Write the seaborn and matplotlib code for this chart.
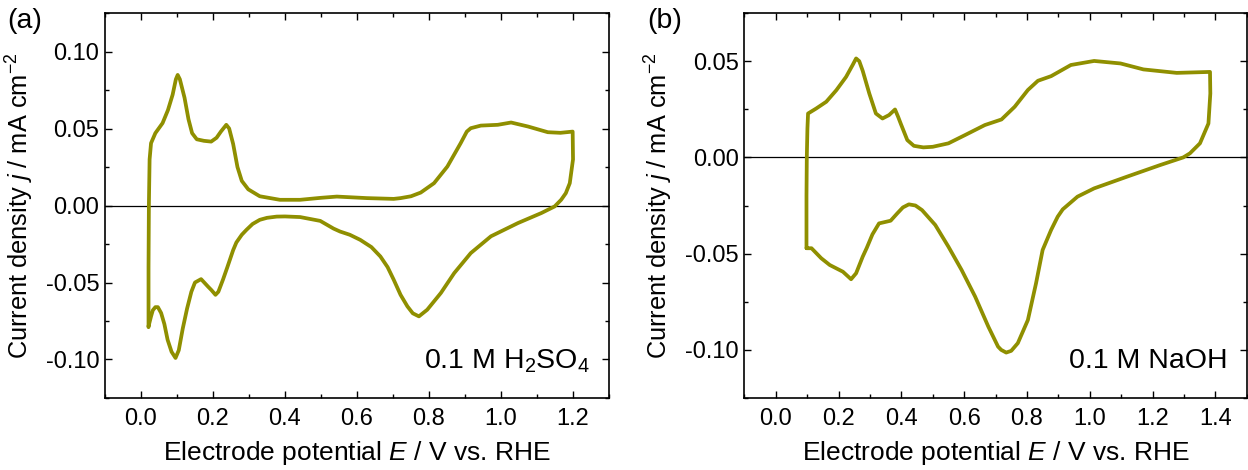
import matplotlib
matplotlib.use('Agg')
import matplotlib.pyplot as plt
from matplotlib.ticker import MultipleLocator, FormatStrFormatter
import seaborn as sns
import pandas as pd

# ─── DATA ──────────────────────────────────────────────────────
# (a) 0.1 M H2SO4, closed CV loop: anodic sweep then cathodic sweep
E_acid = [0.021, 0.021, 0.022, 0.024, 0.028, 0.040, 0.060, 0.075, 0.088, 0.097,
          0.102, 0.108, 0.121, 0.132, 0.142, 0.155, 0.175, 0.195, 0.210, 0.222,
          0.237, 0.245, 0.256, 0.268, 0.280, 0.298, 0.330, 0.386, 0.442, 0.500,
          0.544, 0.628, 0.702, 0.721, 0.750, 0.777, 0.814, 0.851, 0.888, 0.905,
          0.916, 0.944, 0.991, 1.028, 1.075, 1.130, 1.165, 1.199, 1.200, 1.191,
          1.180, 1.167, 1.149, 1.112, 1.047, 0.972, 0.916, 0.870, 0.833, 0.795,
          0.772, 0.755, 0.740, 0.721, 0.702, 0.685, 0.665, 0.640, 0.609,
          0.580, 0.553, 0.535, 0.498, 0.442, 0.400, 0.377, 0.350, 0.330, 0.310,
          0.293, 0.280, 0.265, 0.256, 0.240, 0.228, 0.215, 0.207, 0.196, 0.186,
          0.167, 0.150, 0.140, 0.128, 0.116, 0.105, 0.096, 0.085, 0.074, 0.065,
          0.056, 0.047, 0.040, 0.033, 0.028, 0.021]
j_acid = [-0.079, -0.040, 0.000, 0.030, 0.0405, 0.047, 0.0535, 0.062, 0.072, 0.082,
          0.0848, 0.082, 0.070, 0.056, 0.047, 0.043, 0.042, 0.0415, 0.044, 0.048,
          0.0524, 0.050, 0.040, 0.025, 0.016, 0.0105, 0.006, 0.0037, 0.0037, 0.0050,
          0.0058, 0.0048, 0.0043, 0.0048, 0.0060, 0.0084, 0.0145, 0.0253, 0.0405, 0.048,
          0.0502, 0.0519, 0.0524, 0.0539, 0.0513, 0.0476, 0.0472, 0.048, 0.030, 0.0145,
          0.008, 0.0037, -0.0006, -0.0049, -0.0114, -0.020, -0.0309, -0.0439, -0.0568, -0.0677,
          -0.072, -0.070, -0.0655, -0.058, -0.0482, -0.040, -0.0331, -0.027, -0.0223,
          -0.019, -0.0169, -0.015, -0.010, -0.0075, -0.0071, -0.0072, -0.008, -0.0093, -0.012,
          -0.0158, -0.019, -0.024, -0.029, -0.040, -0.048, -0.056, -0.058, -0.055, -0.0526,
          -0.0478, -0.050, -0.056, -0.067, -0.080, -0.094, -0.099, -0.095, -0.0872, -0.077,
          -0.0698, -0.066, -0.066, -0.068, -0.072, -0.0785]

# (b) 0.1 M NaOH
E_base = [0.098, 0.098, 0.099, 0.101, 0.103, 0.129, 0.161, 0.193, 0.224, 0.245,
          0.256, 0.266, 0.277, 0.298, 0.319, 0.340, 0.361, 0.380, 0.390, 0.398,
          0.419, 0.440, 0.470, 0.500, 0.550, 0.603, 0.666, 0.719, 0.761, 0.803,
          0.835, 0.877, 0.940, 1.014, 1.098, 1.171, 1.277, 1.383, 1.384, 1.378,
          1.351, 1.319, 1.298, 1.224, 1.119, 1.014, 0.961, 0.914, 0.898, 0.877,
          0.850, 0.829, 0.803, 0.771, 0.750, 0.734, 0.718, 0.708, 0.677, 0.635,
          0.592, 0.550, 0.508, 0.466, 0.445, 0.424, 0.405, 0.387, 0.366, 0.329,
          0.308, 0.290, 0.277, 0.256, 0.240, 0.214, 0.172, 0.145, 0.114, 0.098]
j_base = [-0.047, -0.020, 0.000, 0.015, 0.0228, 0.0254, 0.0289, 0.0349, 0.0418, 0.048,
          0.0514, 0.050, 0.045, 0.0332, 0.0228, 0.0202, 0.022, 0.0249, 0.021, 0.0176,
          0.009, 0.006, 0.0052, 0.0055, 0.0073, 0.0116, 0.0168, 0.0197, 0.0263, 0.035,
          0.0398, 0.0422, 0.048, 0.0501, 0.0488, 0.0457, 0.0439, 0.0444, 0.0332, 0.0176,
          0.0073, 0.0021, 0.000, -0.004, -0.010, -0.0161, -0.0204, -0.027, -0.0308, -0.0377,
          -0.0481, -0.0654, -0.0845, -0.0965, -0.1005, -0.1014, -0.100, -0.0983, -0.0879, -0.0723,
          -0.0585, -0.0464, -0.0351, -0.0274, -0.025, -0.0244, -0.026, -0.0291, -0.0329, -0.0343,
          -0.040, -0.047, -0.0516, -0.0602, -0.0633, -0.0594, -0.0559, -0.0524, -0.0472, -0.0472]

panel_tags = ['(a)', '(b)']
electrolytes = ['0.1 M H$_2$SO$_4$', '0.1 M NaOH']
xlims = [(-0.1, 1.3), (-0.1, 1.5)]
ylims = [(-0.125, 0.125), (-0.125, 0.075)]

# ─── STYLE ─────────────────────────────────────────────────────
sns.set_theme(style='ticks')
plt.rcParams['font.family'] = ['Liberation Sans', 'DejaVu Sans']
plt.rcParams['mathtext.fontset'] = 'custom'
plt.rcParams['mathtext.rm'] = 'Liberation Sans'
plt.rcParams['mathtext.it'] = 'Liberation Sans:italic'
plt.rcParams['axes.unicode_minus'] = False
for key in ['text.color', 'axes.labelcolor', 'xtick.color', 'ytick.color',
            'axes.edgecolor']:
    plt.rcParams[key] = 'black'

line_color = '#8F8F00'

fig = plt.figure(figsize=(12.48, 4.70), dpi=100)
ax_a = fig.add_axes([0.0841, 0.1532, 0.4039, 0.8191])
ax_b = fig.add_axes([0.5964, 0.1532, 0.4026, 0.8191])

datasets = [pd.DataFrame({'E': E_acid, 'j': j_acid}),
            pd.DataFrame({'E': E_base, 'j': j_base})]

for i, (ax, df) in enumerate(zip([ax_a, ax_b], datasets)):
    ax.axhline(0, color='black', lw=0.9, zorder=1)
    sns.lineplot(data=df, x='E', y='j', sort=False, estimator=None,
                 color=line_color, lw=2.7, ax=ax, zorder=2)
    ax.set_xlim(*xlims[i])
    ax.set_ylim(*ylims[i])
    ax.xaxis.set_major_locator(MultipleLocator(0.2))
    ax.xaxis.set_minor_locator(MultipleLocator(0.1))
    ax.yaxis.set_major_locator(MultipleLocator(0.05))
    ax.yaxis.set_minor_locator(MultipleLocator(0.025))
    ax.xaxis.set_major_formatter(FormatStrFormatter('%.1f'))
    ax.yaxis.set_major_formatter(FormatStrFormatter('%.2f'))
    ax.tick_params(which='both', direction='in', top=True, right=True,
                   labelsize=17, width=1.0)
    ax.tick_params(axis='x', pad=7)
    ax.tick_params(axis='y', pad=4)
    ax.tick_params(which='major', length=5)
    ax.tick_params(which='minor', length=3)
    for sp in ax.spines.values():
        sp.set_linewidth(1.2)
    ax.set_xlabel('Electrode potential $E$ / V vs. RHE', fontsize=19, labelpad=7)
    ax.set_ylabel('Current density $j$ / mA cm$^{-2}$', fontsize=18.3, labelpad=7)
    ax.text(0.962, 0.095, electrolytes[i], transform=ax.transAxes,
            ha='right', va='center', fontsize=20.5)

fig.text(0.006, 0.955, panel_tags[0], fontsize=20.5, va='center')
fig.text(0.519, 0.955, panel_tags[1], fontsize=20.5, va='center')

plt.savefig('out.png', dpi=100)
plt.close()
